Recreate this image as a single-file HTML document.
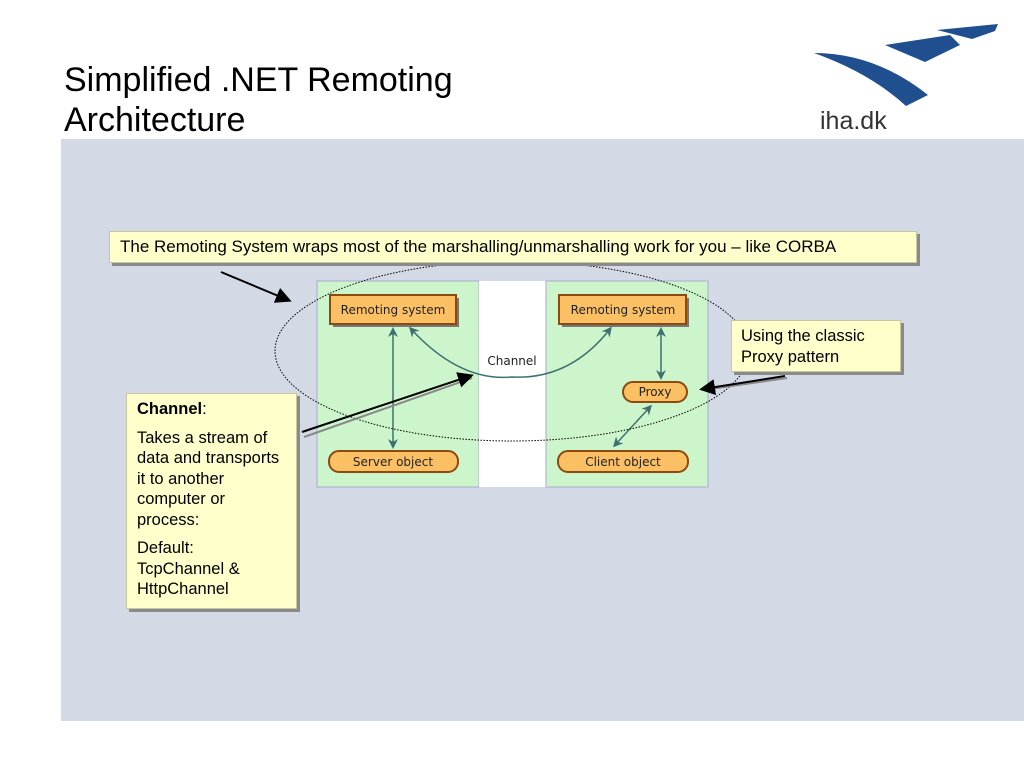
<!DOCTYPE html>
<html><head><style>
body{margin:0;width:1024px;height:768px;background:#fff;position:relative;overflow:hidden;font-family:"Liberation Sans",sans-serif}
.t{position:absolute;left:64px;top:60px;font-size:34px;line-height:40px;color:#000}
.bg{position:absolute;left:61px;top:139px;width:963px;height:582px;background:#d4d9e6}
.note{position:absolute;background:#ffffcc;border:1px solid #c8c8a0;box-shadow:3px 3px 0 #8a8a8a;font-size:16px;color:#000;box-sizing:border-box;white-space:nowrap}
</style></head><body>
<div class="t">Simplified .NET Remoting<br>Architecture</div>
<svg style="position:absolute;left:800px;top:15px" width="210" height="120">
<path d="M14 38 Q75 38 128 80 L106 91 Q70 58 14 38Z" fill="#1f4f8f"/>
<path d="M85 30 L150 20 L160 30 L125 47Z" fill="#1f4f8f"/>
<path d="M137 15 L198 9 L195 16 L172 24Z" fill="#1f4f8f"/>
<text x="20" y="114" font-family="Liberation Sans" font-size="25" fill="#333">iha.dk</text>
</svg>
<div class="bg"></div>
<svg style="position:absolute;left:0;top:0" width="1024" height="768">
<defs><marker id="a" markerWidth="10" markerHeight="10" refX="7" refY="5" orient="auto-start-reverse" markerUnits="userSpaceOnUse"><path d="M0,0 L10,5 L0,10 L3,5Z" fill="#3f7070"/></marker>
<marker id="b" markerWidth="8" markerHeight="8" refX="6" refY="4" orient="auto"><path d="M0,0 L8,4 L0,8Z" fill="#000"/></marker></defs>
<rect x="317" y="281" width="162" height="206" fill="#ccf5cc" stroke="#aac"/>
<rect x="479" y="281" width="67" height="206" fill="#fff"/>
<rect x="546" y="281" width="162" height="206" fill="#ccf5cc" stroke="#aac"/>
<g font-family="DejaVu Sans" font-size="12" text-anchor="middle" fill="#222">
<rect x="333" y="298" width="126" height="29" fill="#777"/>
<rect x="330" y="295" width="126" height="29" fill="#fcc064" stroke="#8a4a10" stroke-width="2"/>
<text x="393" y="314">Remoting system</text>
<rect x="562" y="298" width="127" height="29" fill="#777"/>
<rect x="559" y="295" width="127" height="29" fill="#fcc064" stroke="#8a4a10" stroke-width="2"/>
<text x="623" y="314">Remoting system</text>
<rect x="329" y="451" width="129" height="21" rx="10" fill="#fcc064" stroke="#8a4a10" stroke-width="2"/>
<text x="393" y="466">Server object</text>
<rect x="558" y="451" width="130" height="21" rx="10" fill="#fcc064" stroke="#8a4a10" stroke-width="2"/>
<text x="623" y="466">Client object</text>
<rect x="623" y="382" width="64" height="20" rx="10" fill="#fcc064" stroke="#8a4a10" stroke-width="2"/>
<text x="655" y="396">Proxy</text>
<text x="512" y="365">Channel</text>
</g>
<g stroke="#3f7070" stroke-width="1.5" fill="none">
<line x1="393" y1="330" x2="393" y2="446" marker-start="url(#a)" marker-end="url(#a)"/>
<line x1="661" y1="330" x2="661" y2="377" marker-start="url(#a)" marker-end="url(#a)"/>
<line x1="650" y1="407" x2="615" y2="445" marker-start="url(#a)" marker-end="url(#a)"/>
<path d="M411 329 Q460 382 512 377 Q570 380 610 329" marker-start="url(#a)" marker-end="url(#a)"/>
</g>
<ellipse cx="512" cy="351" rx="237" ry="90" fill="none" stroke="#000" stroke-dasharray="1.5 1.5"/>
<g stroke-width="2">
<line x1="221" y1="272" x2="288" y2="300" stroke="#000" marker-end="url(#b)"/>
<line x1="304" y1="437" x2="472" y2="378" stroke="#888"/>
<line x1="302" y1="432" x2="470" y2="376" stroke="#000" marker-end="url(#b)"/>
<line x1="787" y1="378" x2="703" y2="390" stroke="#888"/>
<line x1="785" y1="376" x2="703" y2="389" stroke="#000" marker-end="url(#b)"/>
</g>
</svg>
<div class="note" style="left:109px;top:231px;width:808px;height:32px;padding:5px 10px;font-size:17px">The Remoting System wraps most of the marshalling/unmarshalling work for you – like CORBA</div>
<div class="note" style="left:126px;top:393px;width:171px;height:216px;padding:5px 10px;line-height:20.5px;font-size:16.5px"><b>Channel</b>:<div style="margin-top:8px">Takes a stream of<br>data and transports<br>it to another<br>computer or<br>process:</div><div style="margin-top:8px">Default:<br>TcpChannel &amp;<br>HttpChannel</div></div>
<div class="note" style="left:731px;top:320px;width:170px;height:52px;padding:5px 9px;line-height:20.5px;font-size:16.5px">Using the classic<br>Proxy pattern</div>
</body></html>
